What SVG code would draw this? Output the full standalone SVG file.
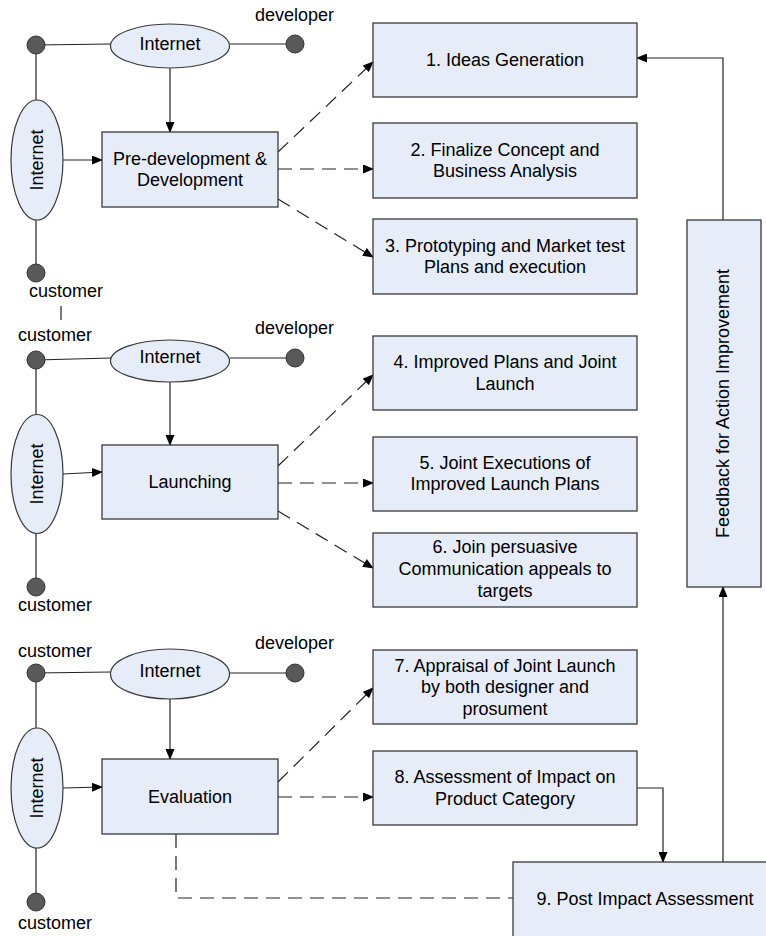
<svg xmlns="http://www.w3.org/2000/svg" width="766" height="936" viewBox="0 0 766 936">
<defs>
<marker id="arr" markerWidth="11" markerHeight="9" refX="10" refY="4.5" orient="auto" markerUnits="userSpaceOnUse">
<path d="M0,0 L11,4.5 L0,9 z" fill="#000"/>
</marker>
<style>
.box{fill:#e6ecf8;stroke:#3a3a3a;stroke-width:1.3}
.ell{fill:#e6ecf8;stroke:#3a3a3a;stroke-width:1.2}
.dot{fill:#595959;stroke:#333;stroke-width:1}
.ln{fill:none;stroke:#222;stroke-width:1.2}
.ar{fill:none;stroke:#222;stroke-width:1.2;marker-end:url(#arr)}
.da{fill:none;stroke:#222;stroke-width:1.2;stroke-dasharray:14 8;marker-end:url(#arr)}
.dl{fill:none;stroke:#222;stroke-width:1.2;stroke-dasharray:14 8}
text{font-family:"Liberation Sans",Arial,sans-serif;font-size:18px;fill:#000}
.c{text-anchor:middle}
</style>
</defs>
<rect width="766" height="936" fill="#fff"/>

<g id="connectors">
<path class="ln" d="M36,45 L111,44"/>
<path class="ln" d="M230,44 L295,44"/>
<path class="ln" d="M36,45 L36,100"/>
<path class="ln" d="M36,220 L36,273"/>
<path class="ar" d="M170,68 L170,132"/>
<path class="ar" d="M63,160 L102,160"/>
<path class="da" d="M278,152 L373,62"/>
<path class="da" d="M278,169 L373,169"/>
<path class="da" d="M278,199 L373,257"/>
<path class="ln" d="M61,306 L61,320"/>
<path class="ln" d="M36,360 L111,358"/>
<path class="ln" d="M230,358 L295,358"/>
<path class="ln" d="M36,360 L36,414"/>
<path class="ln" d="M36,533 L36,587"/>
<path class="ar" d="M170,382 L170,445"/>
<path class="ar" d="M63,474 L102,472"/>
<path class="da" d="M278,466 L373,375"/>
<path class="da" d="M278,483 L373,483"/>
<path class="da" d="M278,511 L373,568"/>
<path class="ln" d="M36,673 L111,672"/>
<path class="ln" d="M230,673 L295,673"/>
<path class="ln" d="M36,673 L36,728"/>
<path class="ln" d="M36,848 L36,902"/>
<path class="ar" d="M170,699 L170,759"/>
<path class="ar" d="M63,788 L102,787"/>
<path class="da" d="M278,782 L373,688"/>
<path class="da" d="M278,797 L373,797"/>
<path class="dl" d="M176,834 L176,898 L513,898"/>
<path class="ar" d="M637,788 L663,788 L663,862"/>
<path class="ar" d="M723,862 L723,587"/>
<path class="ar" d="M723,220 L723,58 L637,58"/>
</g>

<g id="s1-internet-top"><ellipse class="ell" cx="170" cy="46" rx="59.5" ry="22"/><text class="c" x="170" y="50">Internet</text></g>
<g id="s1-internet-left"><ellipse class="ell" cx="37" cy="160" rx="26" ry="60"/><text class="c" transform="translate(43,160) rotate(-90)">Internet</text></g>
<g id="s1-dot-customer"><circle class="dot" cx="36" cy="45" r="9"/></g>
<g id="s1-dot-developer"><circle class="dot" cx="295" cy="44" r="9"/><text x="255" y="21">developer</text></g>
<g id="s1-dot-customer2"><circle class="dot" cx="36" cy="273" r="9"/><text x="29" y="297">customer</text></g>
<g id="s1-predev"><rect class="box" x="102" y="132" width="176" height="75"/><text class="c" x="190" y="165">Pre-development &amp;</text><text class="c" x="190" y="186">Development</text></g>

<g id="s2-internet-top"><ellipse class="ell" cx="170" cy="361" rx="59.5" ry="21"/><text class="c" x="170" y="363">Internet</text></g>
<g id="s2-internet-left"><ellipse class="ell" cx="37" cy="474" rx="26" ry="59.5"/><text class="c" transform="translate(43,474) rotate(-90)">Internet</text></g>
<g id="s2-dot-customer"><circle class="dot" cx="36" cy="360" r="9"/><text x="18" y="341">customer</text></g>
<g id="s2-dot-developer"><circle class="dot" cx="295" cy="358" r="9"/><text x="255" y="334">developer</text></g>
<g id="s2-dot-customer2"><circle class="dot" cx="36" cy="587" r="9"/><text x="18" y="611">customer</text></g>
<g id="s2-launching"><rect class="box" x="102" y="445" width="176" height="74"/><text class="c" x="190" y="488">Launching</text></g>

<g id="s3-internet-top"><ellipse class="ell" cx="170" cy="674" rx="59.5" ry="25"/><text class="c" x="170" y="677">Internet</text></g>
<g id="s3-internet-left"><ellipse class="ell" cx="37" cy="788" rx="26" ry="60"/><text class="c" transform="translate(43,788) rotate(-90)">Internet</text></g>
<g id="s3-dot-customer"><circle class="dot" cx="36" cy="673" r="9"/><text x="18" y="657">customer</text></g>
<g id="s3-dot-developer"><circle class="dot" cx="295" cy="673" r="9"/><text x="255" y="649">developer</text></g>
<g id="s3-dot-customer2"><circle class="dot" cx="36" cy="902" r="9"/><text x="18" y="929">customer</text></g>
<g id="s3-evaluation"><rect class="box" x="102" y="759" width="176" height="75"/><text class="c" x="190" y="803">Evaluation</text></g>

<g id="n1"><rect class="box" x="373" y="23" width="264" height="74"/><text class="c" x="505" y="66">1. Ideas Generation</text></g>
<g id="n2"><rect class="box" x="373" y="123" width="264" height="75"/><text class="c" x="505" y="156">2. Finalize Concept and</text><text class="c" x="505" y="177">Business Analysis</text></g>
<g id="n3"><rect class="box" x="373" y="219" width="264" height="75"/><text class="c" x="505" y="252">3. Prototyping and Market test</text><text class="c" x="505" y="273">Plans and execution</text></g>
<g id="n4"><rect class="box" x="373" y="336" width="264" height="74"/><text class="c" x="505" y="368">4. Improved Plans and Joint</text><text class="c" x="505" y="390">Launch</text></g>
<g id="n5"><rect class="box" x="373" y="437" width="264" height="74"/><text class="c" x="505" y="469">5. Joint Executions of</text><text class="c" x="505" y="490">Improved Launch Plans</text></g>
<g id="n6"><rect class="box" x="373" y="533" width="264" height="74"/><text class="c" x="505" y="553">6. Join persuasive</text><text class="c" x="505" y="575">Communication appeals to</text><text class="c" x="505" y="597">targets</text></g>
<g id="n7"><rect class="box" x="373" y="650" width="264" height="74"/><text class="c" x="505" y="672">7. Appraisal of Joint Launch</text><text class="c" x="505" y="693">by both designer and</text><text class="c" x="505" y="715">prosument</text></g>
<g id="n8"><rect class="box" x="373" y="751" width="264" height="74"/><text class="c" x="505" y="783">8. Assessment of Impact on</text><text class="c" x="505" y="805">Product Category</text></g>
<g id="n9"><rect class="box" x="513" y="862" width="264" height="75"/><text class="c" x="645" y="905">9. Post Impact Assessment</text></g>
<g id="feedback"><rect class="box" x="687" y="220" width="74" height="367"/><text class="c" transform="translate(729,403.5) rotate(-90)">Feedback for Action Improvement</text></g>
</svg>
